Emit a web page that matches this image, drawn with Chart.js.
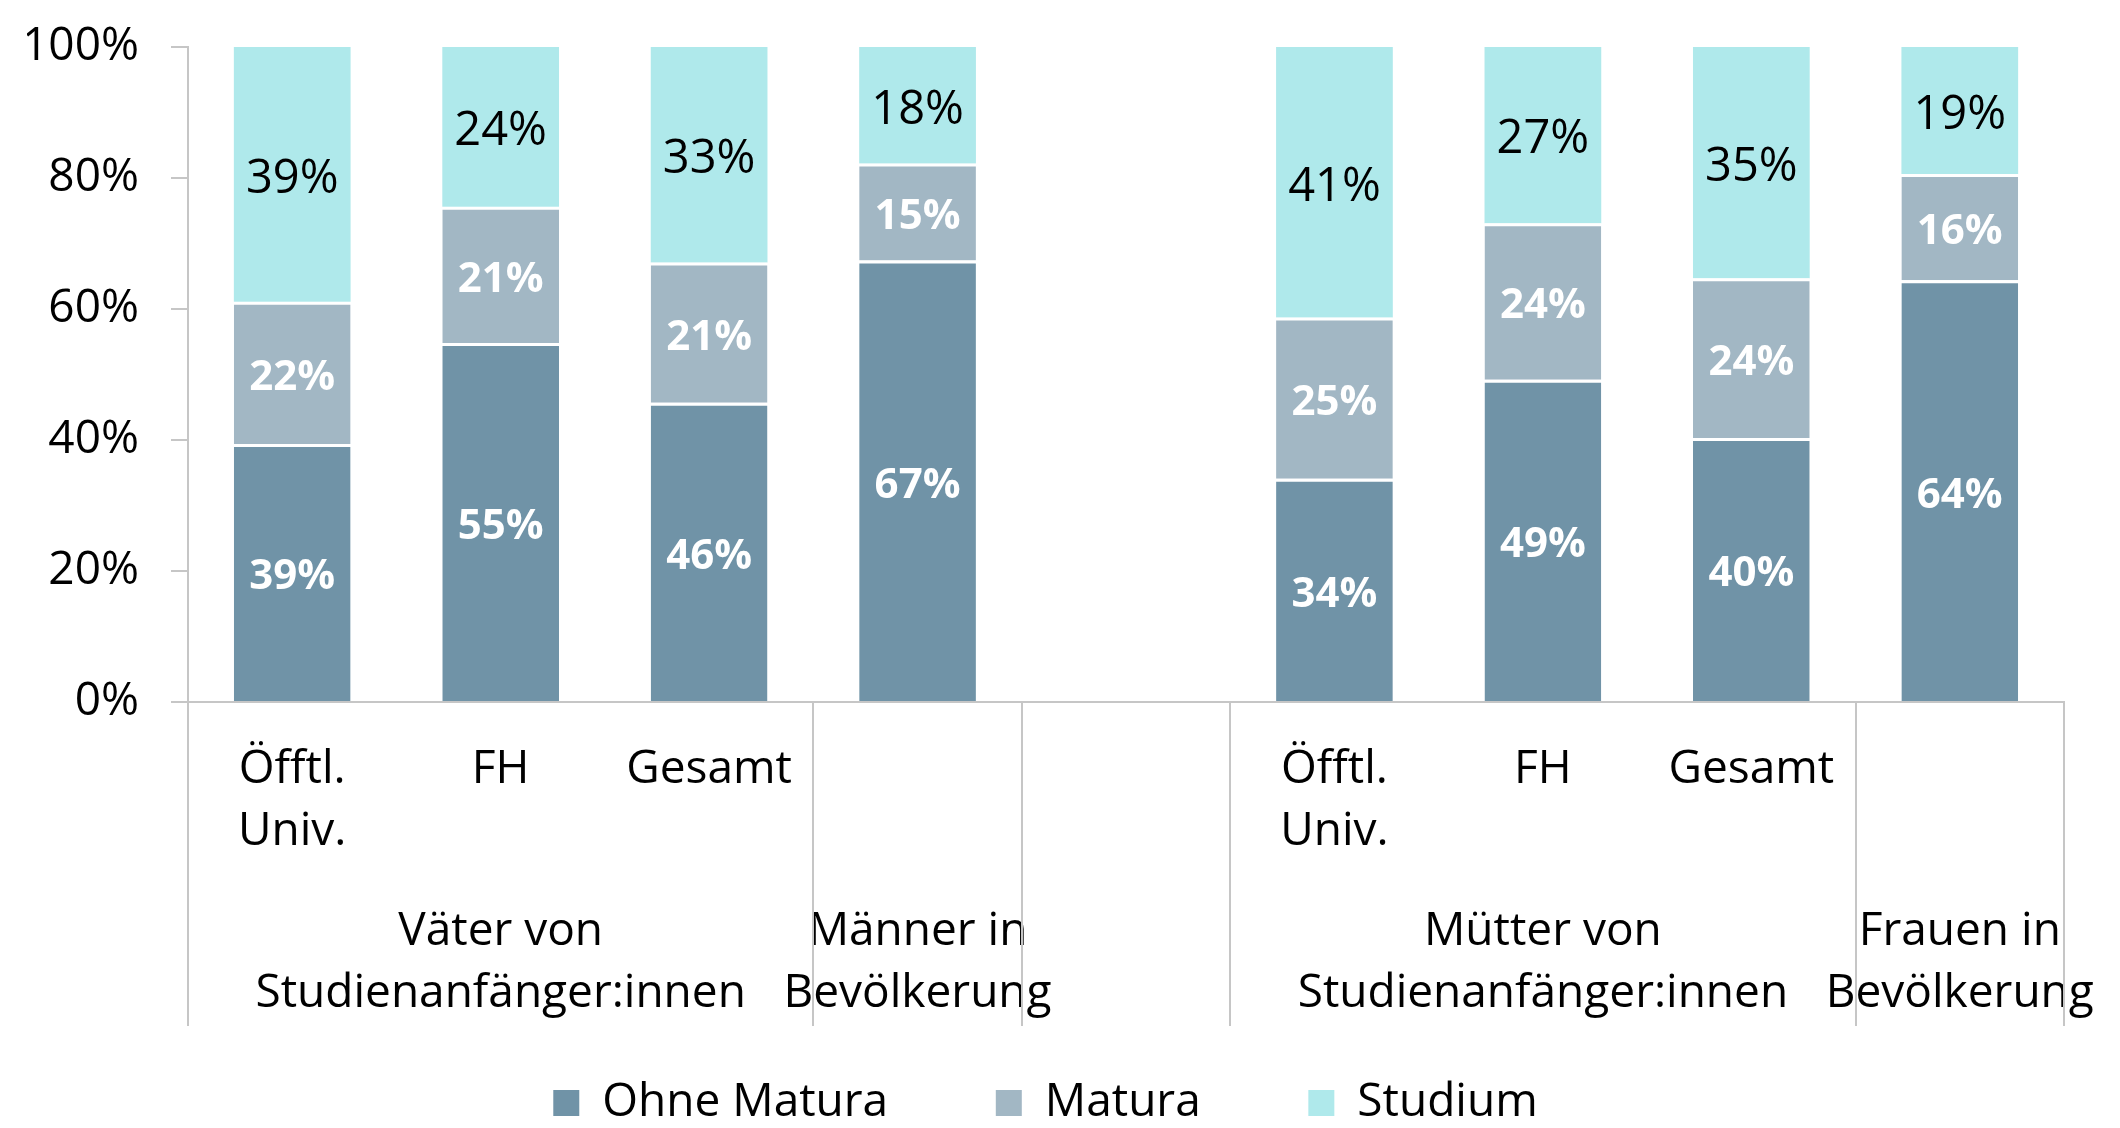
<!DOCTYPE html>
<html>
<head>
<meta charset="utf-8">
<script src="https://cdn.jsdelivr.net/npm/chart.js@4.4.1/dist/chart.umd.min.js"></script>
<style>
  html, body { margin: 0; padding: 0; background: #fff; }
  #wrap { width: 2120px; height: 1128px; position: relative; }
</style>
</head>
<body>
<div id="wrap"><canvas id="myChart"></canvas></div>
<script>
// --- Categories and groups ---
const categories = [['Öfftl.', 'Univ.'], 'FH', 'Gesamt', '', '', ['Öfftl.', 'Univ.'], 'FH', 'Gesamt', ''];
const groupLabels = ['', ['Väter von', 'Studienanfänger:innen'], '', ['Männer in', 'Bevölkerung'], '', '',
  ['Mütter von', 'Studienanfänger:innen'], '', ['Frauen in', 'Bevölkerung']];
const groupEdges = [0, 3, 4, 5, 8, 9]; // slot edges where separator lines sit

// --- Series values (%) ---
const ohneMatura = [39.4, 54.8, 45.7, 67.4, null, 34.1, 49.2, 40.3, 64.4];
const matura = [21.7, 20.8, 21.4, 14.8, null, 24.6, 23.9, 24.4, 16.2];
const studium = [38.9, 24.4, 32.9, 17.8, null, 41.3, 26.9, 35.3, 19.4];

// --- Y ticks ---
const yTicks = [0, 20, 40, 60, 80, 100];

const FONT = "'Open Sans', sans-serif";
const GRAY = '#c6c6c6';
Chart.defaults.font.family = FONT;
Chart.defaults.color = '#000';

// --- Value labels in the middle of each segment ---
const segmentLabels = {
  id: 'segmentLabels',
  afterDatasetsDraw(chart) {
    const ctx = chart.ctx;
    chart.data.datasets.forEach((ds, i) => {
      const meta = chart.getDatasetMeta(i);
      meta.data.forEach((bar, j) => {
        const v = ds.data[j];
        if (v == null) return;
        const p = bar.getProps(['x', 'y', 'base'], true);
        ctx.save();
        ctx.font = ds.labelFont;
        ctx.fillStyle = ds.labelColor;
        ctx.textAlign = 'center';
        ctx.textBaseline = 'middle';
        ctx.fillText(Math.round(v) + '%', p.x, (p.y + p.base) / 2 + 5);
        ctx.restore();
      });
    });
  }
};

// --- Vertical separators of the grouped category axis ---
const groupLines = {
  id: 'groupLines',
  afterDraw(chart) {
    const x = chart.scales.x, x2 = chart.scales.x2;
    const half = (x.getPixelForValue(1) - x.getPixelForValue(0)) / 2;
    const ctx = chart.ctx;
    ctx.save();
    ctx.strokeStyle = GRAY;
    ctx.lineWidth = 2;
    groupEdges.forEach(i => {
      const px = Math.round(x.getPixelForValue(i) - half);
      ctx.beginPath();
      ctx.moveTo(px, x.top);
      ctx.lineTo(px, x2.bottom);
      ctx.stroke();
    });
    ctx.restore();
  }
};

const ctx = document.getElementById('myChart').getContext('2d');
const chart = new Chart(ctx, {
  type: 'bar',
  data: {
    labels: categories,
    datasets: [
      {
        label: 'Ohne Matura',
        data: ohneMatura,
        backgroundColor: '#7093a7',
        borderColor: '#ffffff',
        borderWidth: { top: 3, bottom: 0, left: 0, right: 0 },
        labelColor: '#ffffff',
        labelFont: "bold 42px 'Open Sans', sans-serif"
      },
      {
        label: 'Matura',
        data: matura,
        backgroundColor: '#a2b7c4',
        borderColor: '#ffffff',
        borderWidth: { top: 3, bottom: 0, left: 0, right: 0 },
        labelColor: '#ffffff',
        labelFont: "bold 42px 'Open Sans', sans-serif"
      },
      {
        label: 'Studium',
        data: studium,
        backgroundColor: '#afe9eb',
        borderWidth: 0,
        labelColor: '#000000',
        labelFont: "47px 'Open Sans', sans-serif"
      }
    ]
  },
  options: {
    responsive: true,
    maintainAspectRatio: false,
    animation: false,
    categoryPercentage: 1,
    barPercentage: 0.56,
    layout: { padding: { left: 27, right: 56, top: 47, bottom: -8 } },
    plugins: {
      tooltip: { enabled: false },
      legend: {
        position: 'bottom',
        labels: {
          font: { size: 46 },
          boxWidth: 26,
          boxHeight: 26,
          padding: 54,
          generateLabels(c) {
            const items = Chart.defaults.plugins.legend.labels.generateLabels(c);
            items.forEach((it, i) => { it.lineWidth = 0; if (i < items.length - 1) it.text += '\u2003\u2009'; });
            return items;
          }
        }
      }
    },
    scales: {
      x: {
        stacked: true,
        offset: true,
        grid: { display: false },
        border: { color: GRAY, width: 2 },
        ticks: { font: { size: 46, lineHeight: 1.35 }, padding: 29, maxRotation: 0, autoSkip: false },
        afterFit(scale) { scale.height = 182; }
      },
      x2: {
        type: 'category',
        labels: groupLabels,
        position: 'bottom',
        offset: true,
        grid: { display: false },
        border: { display: false },
        ticks: { font: { size: 46, lineHeight: 1.35 }, padding: 9, maxRotation: 0, autoSkip: false },
        afterFit(scale) { scale.height = 142; }
      },
      y: {
        stacked: true,
        min: 0,
        max: 100,
        afterBuildTicks(scale) { scale.ticks = yTicks.map(v => ({ value: v })); },
        afterFit(scale) { scale.width = 161; },
        grid: { drawOnChartArea: false, drawTicks: true, tickLength: 17, color: GRAY, lineWidth: 2 },
        border: { color: GRAY, width: 2 },
        ticks: { font: { size: 46, lineHeight: 0.6 }, padding: 32, callback: v => v + '%' }
      }
    }
  },
  plugins: [segmentLabels, groupLines]
});
</script>
</body>
</html>
